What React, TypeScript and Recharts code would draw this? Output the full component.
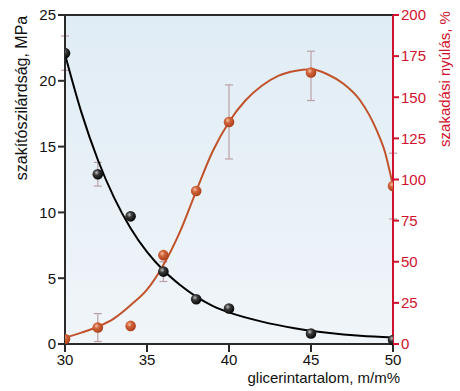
import { ComposedChart, Line, Scatter, XAxis, YAxis, ErrorBar, ReferenceArea, ReferenceLine } from "recharts";

// glicerin content, m/m%
const glycerol = [30, 32, 34, 36, 38, 40, 45, 50];
// tensile strength, MPa (black spheres)
const strength = [22.1, 12.9, 9.7, 5.5, 3.4, 2.7, 0.8, 0.3];
// elongation at break, % (red spheres)
const elongation = [3, 10, 11, 54, 93, 135, 165, 96];

// error bars [minus, plus]
const strengthErrX = [30, 32, 36];
const strengthErrY = [22.1, 12.9, 5.5];
const strengthErr = [[1.3, 1.3], [0.9, 0.9], [0.75, 0.75]];
const elongErrX = [32, 40, 45, 50];
const elongErrY = [10, 135, 165, 96];
const elongErr = [[8.5, 8.5], [22.5, 22.5], [17, 13], [20, 20]];

// fitted curves
const strengthFitX = [30, 31, 32, 33, 34, 35, 36, 37, 38, 39, 40, 42, 44, 46, 48, 50];
const strengthFitY = [22, 17.6, 14, 11.1, 8.8, 7.0, 5.6, 4.5, 3.6, 2.9, 2.4, 1.7, 1.2, 0.85, 0.62, 0.5];
const elongFitX = [30, 31, 32, 33, 34, 35, 36, 37, 38, 39, 40, 41, 42, 43, 44, 45, 46, 47, 48, 49, 49.5, 50];
const elongFitY = [3.8, 6.9, 10.5, 15.6, 23.6, 33, 48, 68, 93, 117, 135, 148, 157, 163, 166, 167, 164, 158, 148, 130, 117, 96];

const leftTicks = [0, 5, 10, 15, 20, 25];
const rightTicks = [0, 25, 50, 75, 100, 125, 150, 175, 200];
const xTicks = [30, 35, 40, 45, 50];

const FONT = "'Liberation Sans', Arial, sans-serif";
const RED_AXIS = "#d0122e";
const RED_CURVE = "#c0532b";
const ERR = "#bba1a6";

const strengthPts = glycerol.map((x, i) => ({ x, y: strength[i] }));
const elongPts = glycerol.map((x, i) => ({ x, y: elongation[i] }));
const strengthErrPts = strengthErrX.map((x, i) => ({ x, y: strengthErrY[i], err: strengthErr[i] }));
const elongErrPts = elongErrX.map((x, i) => ({ x, y: elongErrY[i], err: elongErr[i] }));
const strengthFit = strengthFitX.map((x, i) => ({ x, y: strengthFitY[i] }));
const elongFit = elongFitX.map((x, i) => ({ x, y: elongFitY[i] }));

const Sphere = (grad: string) => (props: any) => (
  <circle cx={props.cx} cy={props.cy} r={5.3} fill={`url(#${grad})`} />
);
const Nothing = () => <g />;

export default function App() {
  return (
    <div style={{ position: "absolute", left: 0, top: 0, width: 460, height: 391, background: "#fff" }}>
      <ComposedChart width={460} height={391} margin={{ top: 15, right: 12, bottom: 17, left: 15 }}>
        <defs>
          <linearGradient id="bgGrad" x1="0" y1="0" x2="0" y2="1">
            <stop offset="0%" stopColor="#e0ecf5" />
            <stop offset="100%" stopColor="#f0f5f9" />
          </linearGradient>
          <radialGradient id="blackBall" cx="0.38" cy="0.35" r="0.7">
            <stop offset="0%" stopColor="#c0c0c0" />
            <stop offset="35%" stopColor="#3a3a3a" />
            <stop offset="100%" stopColor="#000" />
          </radialGradient>
          <radialGradient id="redBall" cx="0.38" cy="0.35" r="0.7">
            <stop offset="0%" stopColor="#f6c2a6" />
            <stop offset="35%" stopColor="#d0643a" />
            <stop offset="100%" stopColor="#a83c18" />
          </radialGradient>
        </defs>
        <XAxis
          type="number"
          dataKey="x"
          domain={[30, 50]}
          ticks={xTicks}
          allowDataOverflow
          height={30}
          tickSize={8}
          stroke="#2a2a2a"
          strokeWidth={2}
          tick={{ fill: "#111", fontSize: 15, fontFamily: FONT }}
        />
        <YAxis
          yAxisId="left"
          type="number"
          domain={[0, 25]}
          ticks={leftTicks}
          width={50}
          tickSize={7}
          stroke="#2a2a2a"
          strokeWidth={2}
          tick={{ fill: "#111", fontSize: 15, fontFamily: FONT }}
        />
        <YAxis
          yAxisId="right"
          orientation="right"
          type="number"
          domain={[0, 200]}
          ticks={rightTicks}
          width={55}
          tickSize={6}
          stroke={RED_AXIS}
          strokeWidth={2}
          tick={{ fill: RED_AXIS, fontSize: 15, fontFamily: FONT }}
        />
        <ReferenceArea yAxisId="left" x1={30} x2={50} y1={0} y2={25} fill="url(#bgGrad)" fillOpacity={1} stroke="none" />
        <ReferenceLine yAxisId="left" y={25} stroke="#2a2a2a" strokeWidth={2} />
        <Scatter yAxisId="left" data={strengthErrPts} dataKey="y" shape={Nothing} isAnimationActive={false}>
          <ErrorBar dataKey="err" direction="y" width={4} stroke={ERR} strokeWidth={1.2} />
        </Scatter>
        <Scatter yAxisId="right" data={elongErrPts} dataKey="y" shape={Nothing} isAnimationActive={false}>
          <ErrorBar dataKey="err" direction="y" width={4} stroke={ERR} strokeWidth={1.2} />
        </Scatter>
        <Line yAxisId="left" data={strengthFit} dataKey="y" type="monotone" stroke="#000" strokeWidth={2} dot={false} isAnimationActive={false} />
        <Line yAxisId="right" data={elongFit} dataKey="y" type="monotone" stroke={RED_CURVE} strokeWidth={2} dot={false} isAnimationActive={false} />
        <Scatter yAxisId="right" data={elongPts} dataKey="y" shape={Sphere("redBall")} isAnimationActive={false} />
        <Scatter yAxisId="left" data={strengthPts} dataKey="y" shape={Sphere("blackBall")} isAnimationActive={false} />
      </ComposedChart>
      <svg width={460} height={391} style={{ position: "absolute", left: 0, top: 0, pointerEvents: "none" }}>
        <text
          transform="translate(21,98) rotate(-90)"
          textAnchor="middle"
          dominantBaseline="central"
          fontSize={16}
          fontFamily={FONT}
          fill="#111"
        >
          szakítószilárdság, MPa
        </text>
        <text
          transform="translate(444,79) rotate(-90)"
          textAnchor="middle"
          dominantBaseline="central"
          fontSize={15}
          fontFamily={FONT}
          fill={RED_AXIS}
        >
          szakadási nyúlás, %
        </text>
        <text x={400} y={383} textAnchor="end" fontSize={15} fontFamily={FONT} fill="#111">
          glicerintartalom, m/m%
        </text>
      </svg>
    </div>
  );
}
